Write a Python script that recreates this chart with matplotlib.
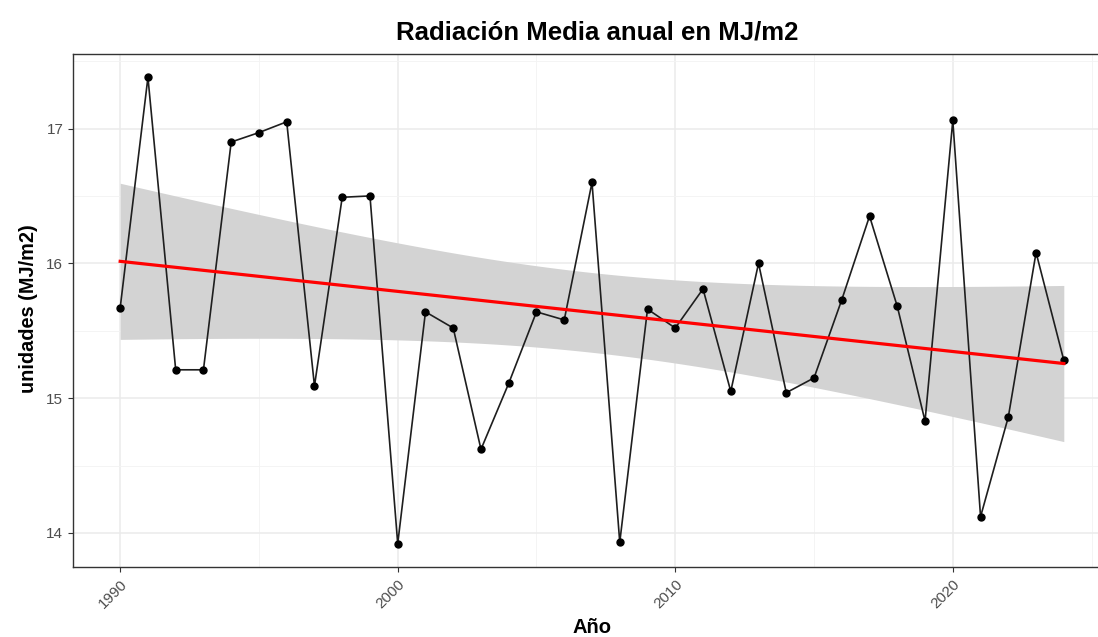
import numpy as np
import matplotlib
matplotlib.use("Agg")
import matplotlib.pyplot as plt

plt.rcParams['font.family'] = ['Liberation Sans', 'DejaVu Sans']

years = list(range(1990, 2025))
radiacion = [15.67, 17.38, 15.21, 15.21, 16.90, 16.97, 17.05, 15.09, 16.49, 16.50,
             13.92, 15.64, 15.52, 14.62, 15.11, 15.64, 15.58, 16.60, 13.93, 15.66,
             15.52, 15.81, 15.05, 16.00, 15.04, 15.15, 15.73, 16.35, 15.68, 14.83,
             17.06, 14.12, 14.86, 16.08, 15.28]
x_ticks = [1990, 2000, 2010, 2020]
y_ticks = [14, 15, 16, 17]

title = "Radiación Media anual en MJ/m2"
xlabel = "Año"
ylabel = "unidades (MJ/m2)"

x = np.array(years, dtype=float)
y = np.array(radiacion)

# linear fit + 95% CI (like geom_smooth(method="lm"))
n = len(x)
b1, b0 = np.polyfit(x, y, 1)
xs = np.linspace(x.min(), x.max(), 200)
yhat = b0 + b1 * xs
resid = y - (b0 + b1 * x)
s = np.sqrt(np.sum(resid**2) / (n - 2))
sxx = np.sum((x - x.mean())**2)
se = s * np.sqrt(1.0 / n + (xs - x.mean())**2 / sxx)
tval = 2.0345  # t(0.975, df=33)
lo, hi = yhat - tval * se, yhat + tval * se

W, H = 1098, 637
fig = plt.figure(figsize=(W / 100, H / 100), dpi=100)
ax_left, ax_right, ax_top, ax_bottom = 73, 1111, 54, 567
ax = fig.add_axes([ax_left / W, 1 - ax_bottom / H, (ax_right - ax_left) / W,
                   (ax_bottom - ax_top) / H])

ax.fill_between(xs, lo, hi, color='#D3D3D3', lw=0, zorder=1)
ax.plot(x, y, color='#1E1E1E', lw=1.2, zorder=2)
ax.plot(x, y, 'o', color='black', ms=5.0, zorder=3)
ax.plot(xs, yhat, color='#FF0000', lw=2.3, zorder=4)

xr = x.max() - x.min()
ax.set_xlim(x.min() - 0.05 * xr, x.max() + 0.05 * xr)
yr = y.max() - y.min()
ax.set_ylim(y.min() - 0.05 * yr, y.max() + 0.05 * yr)

ax.set_xticks(x_ticks)
ax.set_yticks(y_ticks)
ax.set_xticks([1995, 2005, 2015, 2025], minor=True)
ax.set_yticks([14.5, 15.5, 16.5, 17.5], minor=True)
ax.grid(which='major', color='#EBEBEB', lw=1.1, zorder=0)
ax.grid(which='minor', color='#F3F3F3', lw=0.6, zorder=0)
ax.set_axisbelow(True)
ax.tick_params(which='minor', length=0)
ax.tick_params(which='major', length=3.5, width=0.8, color='#333333',
               labelcolor='#4D4D4D', labelsize=11)
for lab in ax.get_xticklabels():
    lab.set_rotation(45)
    lab.set_ha('right')
    lab.set_rotation_mode('anchor')

for sp in ax.spines.values():
    sp.set_color('#333333')
    sp.set_linewidth(1.0)

fig.text(597 / W, 1 - 40 / H, title, fontsize=18.5, fontweight='bold',
         ha='center', va='baseline')
ax.set_xlabel(xlabel, fontsize=14.5, fontweight='bold')
ax.xaxis.label.set_va('baseline')
ax.xaxis.set_label_coords((592 - ax_left) / (ax_right - ax_left),
                          -(633 - ax_bottom) / (ax_bottom - ax_top))
ax.set_ylabel(ylabel, fontsize=14.3, fontweight='bold')
ax.yaxis.set_label_coords(-(ax_left - 38) / (ax_right - ax_left),
                          (ax_bottom - 309) / (ax_bottom - ax_top))

fig.savefig('out.png', dpi=100)
